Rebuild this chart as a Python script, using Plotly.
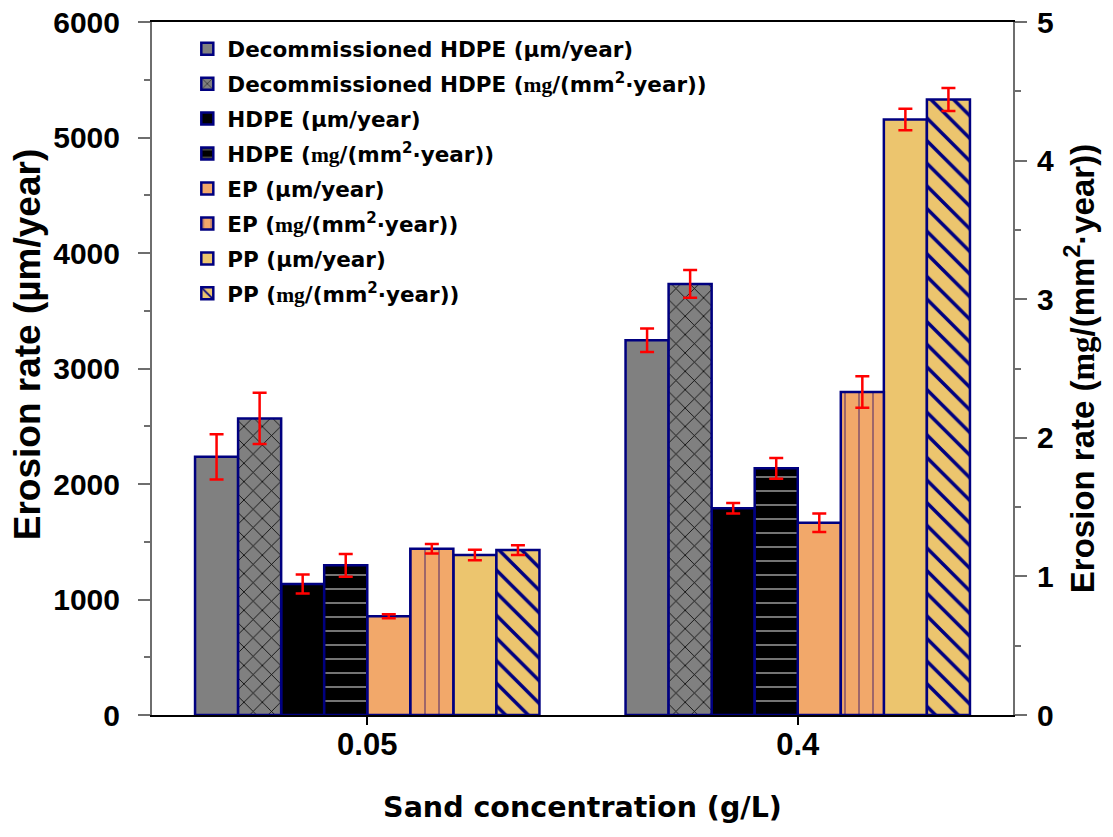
import plotly.graph_objects as go

categories = ["0.05", "0.4"]

MG = "<span style=\"font-family:'Liberation Serif'\">mg</span>"
series_names = [
    "Decommissioned HDPE (µm/year)",
    "Decommissioned HDPE (" + MG + "/(mm<sup>2</sup>·year))",
    "HDPE (µm/year)",
    "HDPE (" + MG + "/(mm<sup>2</sup>·year))",
    "EP (µm/year)",
    "EP (" + MG + "/(mm<sup>2</sup>·year))",
    "PP (µm/year)",
    "PP (" + MG + "/(mm<sup>2</sup>·year))",
]

# values (µm/year on left axis, mg/(mm2·year) on right axis)
decom_um = [2235, 3245]
decom_um_err = [195, 102]
decom_mg = [2.14, 3.11]
decom_mg_err = [0.185, 0.10]
hdpe_um = [1135, 1790]
hdpe_um_err = [82, 45]
hdpe_mg = [1.08, 1.78]
hdpe_mg_err = [0.082, 0.075]
ep_um = [855, 1665]
ep_um_err = [18, 80]
ep_mg = [1.20, 2.33]
ep_mg_err = [0.034, 0.114]
pp_um = [1385, 5155]
pp_um_err = [45, 93]
pp_mg = [1.19, 4.44]
pp_mg_err = [0.035, 0.083]

values = [decom_um, decom_mg, hdpe_um, hdpe_mg, ep_um, ep_mg, pp_um, pp_mg]
errors = [decom_um_err, decom_mg_err, hdpe_um_err, hdpe_mg_err, ep_um_err, ep_mg_err, pp_um_err, pp_mg_err]
axes = ["y", "y2", "y", "y2", "y", "y2", "y", "y2"]

GRAY = "#808080"
BLACK = "#000000"
EP = "#F2A86A"
PP = "#ECC56E"
NAVY = "#000080"
AXGRAY = "#6e6e6e"

styles = [
    dict(color=GRAY, pattern=None),
    dict(color=GRAY, pattern=dict(shape="x", fgcolor="#000000", bgcolor=GRAY, size=13, solidity=0.12, fillmode="replace")),
    dict(color=BLACK, pattern=None),
    dict(color=BLACK, pattern=dict(shape="-", fgcolor="#8a8a8a", bgcolor=BLACK, size=14, solidity=0.12, fillmode="replace")),
    dict(color=EP, pattern=None),
    dict(color=EP, pattern=dict(shape="|", fgcolor="#7a4a6a", bgcolor=EP, size=14, solidity=0.1, fillmode="replace")),
    dict(color=PP, pattern=None),
    dict(color=PP, pattern=dict(shape="\\", fgcolor=NAVY, bgcolor=PP, size=16, solidity=0.22, fillmode="replace")),
]

FONT = "Liberation Sans"
TFONT = "DejaVu Sans"
fig = go.Figure()
n = len(values)
bw = 0.1
for i in range(n):
    marker = dict(color=styles[i]["color"], line=dict(color=NAVY, width=2.5))
    if styles[i]["pattern"] is not None:
        marker["pattern"] = styles[i]["pattern"]
    fig.add_trace(go.Bar(
        x=categories, y=values[i], name=series_names[i], yaxis=axes[i],
        width=bw, offset=-0.4 + i * bw, marker=marker, legendgroup="g%d" % i,
        error_y=dict(type="data", array=errors[i], color="#FF0000", thickness=2.5, width=7),
    ))

fig.add_annotation(
    text="Erosion rate (µm/year)", textangle=-90, xref="paper", yref="paper",
    x=-0.1452, y=0.535, xanchor="center", yanchor="middle", showarrow=False,
    font=dict(family=FONT, size=37, weight="bold", color="black"),
)

fig.update_layout(
    width=1113, height=837,
    margin=dict(l=152, r=100, t=22, b=122),
    paper_bgcolor="white", plot_bgcolor="white",
    font=dict(family=FONT, color="black"),
    showlegend=True,
    legend=dict(x=0.041, y=0.991, xanchor="left", yanchor="top",
                font=dict(family=TFONT, size=21.5, color="black", weight="bold"),
                bgcolor="rgba(0,0,0,0)", tracegroupgap=4, traceorder="grouped"),
    xaxis=dict(range=[-0.5, 1.5], showline=True, linecolor="black", linewidth=2, mirror=True,
               ticks="outside", ticklen=8, tickwidth=2, tickcolor="black", automargin=False,
               ticklabelstandoff=-7,
               tickfont=dict(family=FONT, size=31, weight="bold"),
               title=dict(text="Sand concentration (g/L)", font=dict(family=TFONT, size=28.5, weight="bold"), standoff=36),
               showgrid=False, zeroline=False),
    yaxis=dict(range=[0, 6000], dtick=1000, showline=True, linecolor=AXGRAY, linewidth=2,
               ticks="outside", ticklen=12, tickwidth=2, tickcolor=AXGRAY, automargin=False,
               ticklabelstandoff=12, ticklabeloverflow="allow",
               minor=dict(dtick=500, ticks="outside", ticklen=6, tickwidth=2, tickcolor=AXGRAY),
               tickfont=dict(family=FONT, size=30, weight="bold"),
               showgrid=False, zeroline=False),
    yaxis2=dict(range=[0, 5], dtick=1, overlaying="y", side="right", showline=True, linecolor=AXGRAY, linewidth=2,
                ticks="outside", ticklen=12, tickwidth=2, tickcolor=AXGRAY, automargin=False,
                ticklabelstandoff=4, ticklabeloverflow="allow",
                minor=dict(dtick=0.5, ticks="outside", ticklen=6, tickwidth=2, tickcolor=AXGRAY),
                tickfont=dict(family=FONT, size=30, weight="bold"),
                title=dict(text="Erosion rate (" + MG + "/(mm<sup>2</sup>·year))",
                           font=dict(family=FONT, size=33, weight="bold"), standoff=18),
                showgrid=False, zeroline=False),
)

fig.write_html("out.html", config={"displayModeBar": False},
               post_script="document.body.style.margin='0';")
